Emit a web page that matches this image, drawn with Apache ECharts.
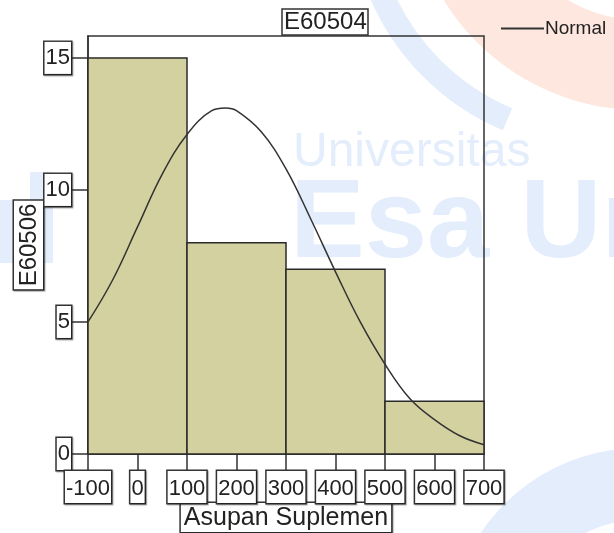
<!DOCTYPE html>
<html><head><meta charset="utf-8">
<script src="https://cdn.jsdelivr.net/npm/echarts@6/dist/echarts.min.js"></script>
<style>html,body{margin:0;padding:0;background:#fff}#c{width:614px;height:533px}</style>
</head><body><div id="c"></div>
<script>
// ---- data ----
const binStarts = [-100, 100, 300, 500];
const binEnds   = [100, 300, 500, 700];
const binCounts = [15, 8, 7, 2];
const normalX = [-100, -50, 0, 50, 100, 150, 178, 200, 250, 300, 350, 400, 450, 500, 550, 600, 650, 700];
const normalY = [5.0, 6.6, 8.6, 10.6, 12.1, 13.0, 13.1, 13.0, 12.2, 10.8, 8.9, 6.9, 5.0, 3.4, 2.1, 1.3, 0.7, 0.35];
const xTickValues = [-100, 0, 100, 200, 300, 400, 500, 600, 700];
const yTickValues = [0, 5, 10, 15];
const chartTitle = 'E60504';
const xAxisName = 'Asupan Suplemen';
const yAxisName = 'E60506';
const curveName = 'Normal';

const SANS = "'Liberation Sans', Arial, sans-serif";
const boxStyle = {
  borderColor: '#333', borderWidth: 1.5,
  shadowColor: 'rgba(0,0,0,0.3)', shadowBlur: 1, shadowOffsetX: 1, shadowOffsetY: 1,
  backgroundColor: '#fff'
};

const histData = binCounts.map((c, i) => [binStarts[i], binEnds[i], c]);
const curveData = normalX.map((x, i) => [x, normalY[i]]);

const chart = echarts.init(document.getElementById('c'), null, {renderer: 'canvas'});
const WM = '#e3edfc';
chart.setOption({
  backgroundColor: '#fff',
  animation: false,
  graphic: [
    {type: 'sector', z: -10, silent: true, shape: {cx: 640, cy: -120, r0: 140, r: 230, startAngle: 1.35, endAngle: 2.75}, style: {fill: '#fde7de'}},
    {type: 'sector', z: -9, silent: true, shape: {cx: 600, cy: -100, r0: 226, r: 250, startAngle: 1.97, endAngle: 2.75}, style: {fill: WM}},
    {type: 'sector', z: -9, silent: true, shape: {cx: 640, cy: 640, r0: 120, r: 192, startAngle: 3.3, endAngle: 4.9}, style: {fill: WM}},
    {type: 'rect', z: -9, silent: true, shape: {x: 30, y: 172, width: 23, height: 91}, style: {fill: WM}},
    {type: 'rect', z: -9, silent: true, shape: {x: 0, y: 200, width: 30, height: 63}, style: {fill: WM}},
    {type: 'text', z: -8, silent: true, left: 293, top: 129, style: {text: 'Universitas', font: '48px ' + SANS, fill: WM}},
    {type: 'text', z: -8, silent: true, left: 290, top: 170, style: {text: 'Esa Un', font: 'bold 112px ' + SANS, fill: WM}}
  ],
  title: {
    text: chartTitle, left: 282, top: 9,
    padding: [1, 2, 0, 2],
    borderColor: '#333', borderWidth: 1.5, backgroundColor: '#fff',
    textStyle: {fontFamily: SANS, fontSize: 24, fontWeight: 'normal', color: '#222', lineHeight: 25}
  },
  legend: {
    data: [{name: curveName, icon: 'rect'}],
    left: 501, top: 19, padding: 0, itemWidth: 43, itemHeight: 2, itemGap: 0,
    textStyle: {fontFamily: SANS, fontSize: 19, color: '#222', padding: [0, 0, 0, -4]},
    itemStyle: {color: '#333'}
  },
  grid: {left: 88, right: 130, top: 36, bottom: 79, containLabel: false, outerBoundsMode: 'none',
    show: true, borderColor: '#333', borderWidth: 1.5, backgroundColor: 'transparent'},
  xAxis: {
    type: 'value', min: -100, max: 700, interval: 100,
    name: xAxisName, nameLocation: 'middle', nameGap: 49, nameMoveOverlap: false,
    nameTextStyle: Object.assign({fontFamily: SANS, fontSize: 25, color: '#222', lineHeight: 28, padding: [1, 3, 0, 3]}, boxStyle),
    axisLine: {show: true, onZero: false, lineStyle: {color: '#333', width: 1.5}},
    axisTick: {show: true, length: 16, lineStyle: {color: '#333', width: 1.5}, customValues: xTickValues},
    axisLabel: Object.assign({customValues: xTickValues, hideOverlap: false, showMinLabel: true, showMaxLabel: true,
      margin: 17, fontFamily: SANS, fontSize: 22, color: '#222', lineHeight: 27, padding: [4, 1, 1, 1]}, boxStyle),
    splitLine: {show: false}
  },
  yAxis: {
    type: 'value', min: 0, max: 15.83, interval: 5,
    name: yAxisName, nameLocation: 'middle', nameGap: 45, nameRotate: 90, nameMoveOverlap: false,
    nameTextStyle: Object.assign({fontFamily: SANS, fontSize: 24, color: '#222', lineHeight: 28, padding: [1, 3, 0, 3]}, boxStyle),
    axisLine: {show: true, onZero: false, lineStyle: {color: '#333', width: 1.5}},
    axisTick: {show: true, length: 16, lineStyle: {color: '#333', width: 1.5}, customValues: yTickValues},
    axisLabel: Object.assign({customValues: yTickValues, hideOverlap: false,
      margin: 17, fontFamily: SANS, fontSize: 22, color: '#222', lineHeight: 26, padding: [6, 1, 0, 1]}, boxStyle),
    splitLine: {show: false}
  },
  series: [
    {
      type: 'custom', name: 'hist', z: 2,
      encode: {x: [0, 1], y: 2},
      data: histData,
      renderItem: function (params, api) {
        const p0 = api.coord([api.value(0), api.value(2)]);
        const p1 = api.coord([api.value(1), 0]);
        return {type: 'rect', shape: {x: p0[0], y: p0[1], width: p1[0] - p0[0], height: p1[1] - p0[1]},
          style: {fill: '#d4d1a0', stroke: '#2a2a2a', lineWidth: 1.5}};
      }
    },
    {
      type: 'line', name: curveName, z: 3, smooth: 0.4, showSymbol: false,
      data: curveData,
      lineStyle: {color: '#333', width: 1.5}, itemStyle: {color: '#333'}
    }
  ]
});
</script>
</body></html>
